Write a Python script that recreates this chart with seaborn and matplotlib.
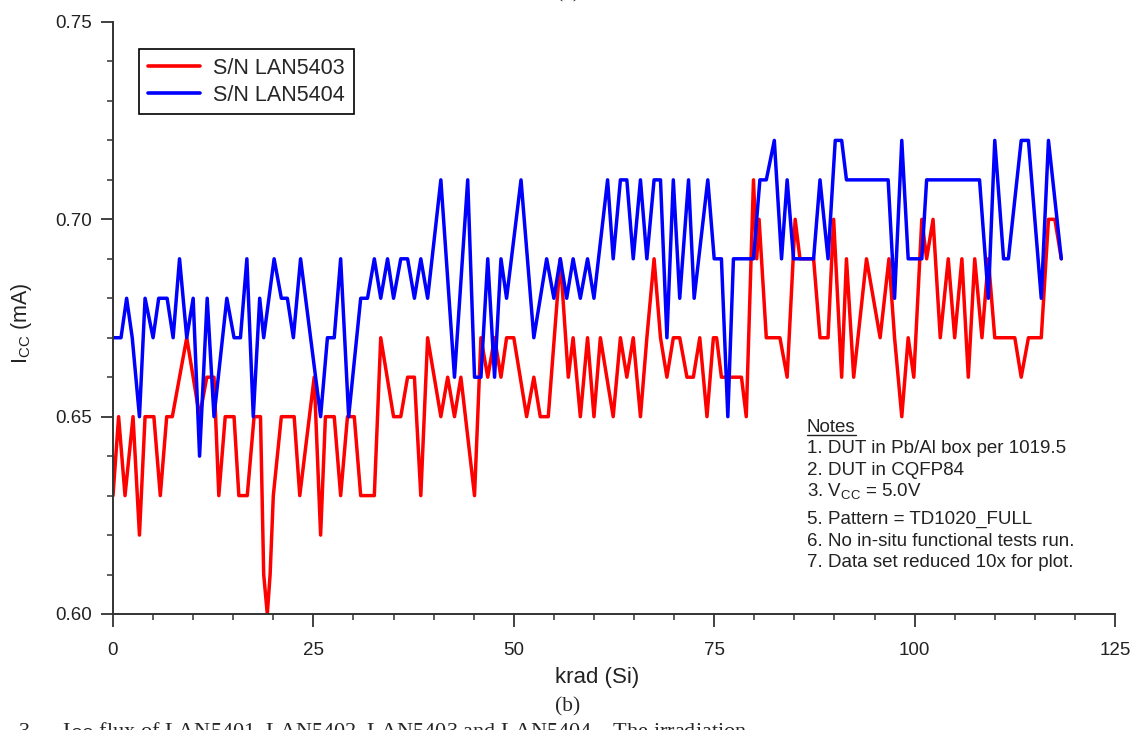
import matplotlib
matplotlib.use("Agg")
import numpy as np
import pandas as pd
import matplotlib.pyplot as plt
from matplotlib.lines import Line2D
from matplotlib.ticker import MultipleLocator, FormatStrFormatter
import seaborn as sns

# ---------------- data ----------------
series_names = ["S/N LAN5403", "S/N LAN5404"]

red_krad = [0, 0.7, 1.5, 2.5, 3.3, 4.0, 5.1, 5.9, 6.7, 7.4, 9.2, 10.8, 11.7, 12.6,
            13.2, 14.0, 15.1, 15.7, 16.75, 17.6, 18.4, 18.8, 19.25, 19.6, 20.0, 21.0,
            22.6, 23.3, 25.1, 25.9, 26.5, 27.6, 28.4, 29.25, 30.1, 30.9, 32.6, 33.4,
            35.0, 35.9, 36.75, 37.6, 38.4, 39.25, 40.9, 41.75, 42.6, 43.4, 45.1, 45.9,
            46.75, 47.6, 48.4, 49.1, 50.0, 51.6, 52.5, 53.3, 54.3, 55.8, 56.8, 57.4,
            58.3, 59.2, 60.0, 60.8, 61.6, 62.4, 63.3, 64.1, 64.9, 65.8, 66.6, 67.5,
            68.3, 69.1, 69.9, 70.7, 71.6, 72.4, 73.2, 74.1, 74.9, 75.3, 75.9, 78.4,
            79.0, 79.9, 80.3, 80.6, 81.5, 83.2, 84.1, 85.1, 85.7, 87.4, 88.2, 89.2,
            89.9, 90.9, 91.5, 92.4, 94.0, 95.7, 96.8, 97.5, 98.4, 99.2, 99.9, 100.9,
            101.5, 102.3, 103.2, 104.2, 105.0, 105.9, 106.7, 107.5, 108.4, 109.2,
            110.0, 112.5, 113.3, 114.2, 115.8, 116.7, 117.5, 118.3]
red_icc = [0.63, 0.65, 0.63, 0.65, 0.62, 0.65, 0.65, 0.63, 0.65, 0.65, 0.67, 0.65, 0.66, 0.66,
           0.63, 0.65, 0.65, 0.63, 0.63, 0.65, 0.65, 0.61, 0.60, 0.61, 0.63, 0.65,
           0.65, 0.63, 0.66, 0.62, 0.65, 0.65, 0.63, 0.65, 0.65, 0.63, 0.63, 0.67,
           0.65, 0.65, 0.66, 0.66, 0.63, 0.67, 0.65, 0.66, 0.65, 0.66, 0.63, 0.67,
           0.66, 0.67, 0.66, 0.67, 0.67, 0.65, 0.66, 0.65, 0.65, 0.69, 0.66, 0.67,
           0.65, 0.67, 0.65, 0.67, 0.66, 0.65, 0.67, 0.66, 0.67, 0.65, 0.67, 0.69,
           0.67, 0.66, 0.67, 0.67, 0.66, 0.66, 0.67, 0.65, 0.67, 0.67, 0.66, 0.66,
           0.65, 0.71, 0.69, 0.70, 0.67, 0.67, 0.66, 0.70, 0.69, 0.69, 0.67, 0.67,
           0.70, 0.66, 0.69, 0.66, 0.69, 0.67, 0.69, 0.67, 0.65, 0.67, 0.66, 0.70,
           0.69, 0.70, 0.67, 0.69, 0.67, 0.69, 0.66, 0.69, 0.67, 0.69,
           0.67, 0.67, 0.66, 0.67, 0.67, 0.70, 0.70, 0.69]

blue_krad = [0, 1.0, 1.7, 2.4, 3.3, 4.0, 5.0, 5.7, 6.75, 7.5, 8.3, 9.2, 10.0, 10.8,
             11.75, 12.6, 14.2, 15.1, 15.9, 16.7, 17.5, 18.3, 18.8, 20.1, 21.0, 21.75,
             22.5, 23.4, 25.9, 26.75, 27.6, 28.4, 29.4, 30.9, 31.75, 32.6, 33.4, 34.25,
             35.0, 35.9, 36.75, 37.6, 38.4, 39.25, 40.9, 42.6, 44.25, 45.1, 45.9, 46.75,
             47.6, 48.4, 49.1, 50.9, 52.5, 54.1, 55.0, 55.8, 56.6, 57.4, 58.3, 59.2,
             60.0, 61.7, 62.4, 63.3, 64.1, 64.9, 65.8, 66.6, 67.5, 68.3, 69.1, 69.9,
             70.7, 71.8, 72.5, 74.2, 75.0, 75.9, 76.7, 77.4, 79.9, 80.7, 81.5, 82.5,
             83.4, 84.1, 84.9, 87.4, 88.2, 89.2, 90.1, 90.9, 91.5, 96.7, 97.5, 98.4,
             99.2, 100.9, 101.5, 108.1, 109.2, 110.0, 111.1, 111.7, 113.3, 114.2,
             115.8, 116.7, 118.3]
blue_icc = [0.67, 0.67, 0.68, 0.67, 0.65, 0.68, 0.67, 0.68, 0.68, 0.67, 0.69, 0.67, 0.68, 0.64,
            0.68, 0.65, 0.68, 0.67, 0.67, 0.69, 0.65, 0.68, 0.67, 0.69, 0.68, 0.68,
            0.67, 0.69, 0.65, 0.67, 0.67, 0.69, 0.65, 0.68, 0.68, 0.69, 0.68, 0.69,
            0.68, 0.69, 0.69, 0.68, 0.69, 0.68, 0.71, 0.66, 0.71, 0.66, 0.66, 0.69,
            0.66, 0.69, 0.68, 0.71, 0.67, 0.69, 0.68, 0.69, 0.68, 0.69, 0.68, 0.69,
            0.68, 0.71, 0.69, 0.71, 0.71, 0.69, 0.71, 0.69, 0.71, 0.71, 0.67, 0.71,
            0.68, 0.71, 0.68, 0.71, 0.69, 0.69, 0.65, 0.69, 0.69, 0.71, 0.71, 0.72,
            0.69, 0.71, 0.69, 0.69, 0.71, 0.69, 0.72, 0.72, 0.71, 0.71, 0.68, 0.72,
            0.69, 0.69, 0.71, 0.71, 0.68, 0.72, 0.69, 0.69, 0.72, 0.72,
            0.68, 0.72, 0.69]

x_ticks = [0, 25, 50, 75, 100, 125]
y_ticks = [0.60, 0.65, 0.70, 0.75]

notes_lines = ["1. DUT in Pb/Al box per 1019.5",
               "2. DUT in CQFP84",
               r"3. V$_{\mathrm{CC}}$ = 5.0V",
               "5. Pattern = TD1020_FULL",
               "6. No in-situ functional tests run.",
               "7. Data set reduced 10x for plot."]

# ---------------- style ----------------
sns.set_style("ticks")
plt.rcParams['font.family'] = ['Liberation Sans', 'DejaVu Sans']
plt.rcParams['mathtext.fontset'] = 'custom'
plt.rcParams['mathtext.rm'] = 'Liberation Sans'
plt.rcParams['mathtext.it'] = 'Liberation Sans:italic'
plt.rcParams['mathtext.bf'] = 'Liberation Sans:bold'

W, H = 1143, 730
fig = plt.figure(figsize=(W / 100, H / 100), dpi=100)
ax = fig.add_axes([113 / W, (H - 614) / H, (1115 - 113) / W, (614 - 22) / H])

df = pd.concat([
    pd.DataFrame({"krad": red_krad, "icc": red_icc, "device": series_names[0]}),
    pd.DataFrame({"krad": blue_krad, "icc": blue_icc, "device": series_names[1]}),
], ignore_index=True)

sns.lineplot(data=df, x="krad", y="icc", hue="device", hue_order=series_names,
             palette=["#ff0000", "#0000ff"], linewidth=2.5, estimator=None,
             sort=False, ax=ax)

ax.set_xlim(0, 125)
ax.set_ylim(0.60, 0.75)
ax.set_xticks(x_ticks)
ax.set_yticks(y_ticks)
ax.xaxis.set_minor_locator(MultipleLocator(5))
ax.yaxis.set_minor_locator(MultipleLocator(0.01))
ax.yaxis.set_major_formatter(FormatStrFormatter('%.2f'))
for s in ["top", "right"]:
    ax.spines[s].set_visible(False)
for s in ["left", "bottom"]:
    ax.spines[s].set_color("#333333")
    ax.spines[s].set_linewidth(1.4)
ax.tick_params(which='major', length=9, width=1.3, direction='out',
               labelsize=13.5, colors='#333333', labelcolor='#222222')
ax.tick_params(which='minor', length=4.5, width=1.1, direction='out', colors='#333333')
ax.tick_params(axis='y', which='major', pad=6)
ax.tick_params(axis='x', which='major', pad=11)
ax.set_xlabel("")
ax.set_ylabel("")

handles, labels = ax.get_legend_handles_labels()
pairs = [(h, l) for h, l in zip(handles, labels) if l in series_names]
leg = ax.legend([p[0] for p in pairs], [p[1] for p in pairs],
                loc='upper left', bbox_to_anchor=((139 - 113) / 1002, (614 - 49) / 592),
                borderaxespad=0, fontsize=15.5, handlelength=2.45, handletextpad=0.6,
                labelspacing=0.28, borderpad=0.4, fancybox=False, framealpha=1,
                edgecolor='black')
leg.get_frame().set_linewidth(1.2)
for lh in leg.get_lines():
    lh.set_linewidth(2.6)

# axis labels
fig.text(597 / W, 1 - 677 / H, "krad (Si)", ha='center', va='center', fontsize=16,
         color='#222222')
fig.text(22 / W, 1 - 323 / H, r"I$_{\mathrm{CC}}$ (mA)", ha='center', va='center',
         rotation=90, fontsize=15.5, color='#222222')

# notes
nt = fig.text(807 / W, 1 - 432 / H, "Notes", ha='left', va='baseline', fontsize=13.5,
              color='#222222')
baselines = [453, 475, 496, 524, 546, 567]
for line, b in zip(notes_lines, baselines):
    fig.text(807 / W, 1 - b / H, line, ha='left', va='baseline', fontsize=13.5,
             color='#222222')
fig.canvas.draw()
bb = nt.get_window_extent(renderer=fig.canvas.get_renderer())
uy = (H - 435) / H
fig.add_artist(Line2D([bb.x0 / W, bb.x1 / W], [uy, uy], transform=fig.transFigure,
                      color='#222222', linewidth=1.0))

# panel labels and clipped caption
fig.text(568 / W, 1 - 707 / H, "(b)", ha='center', va='center', fontsize=15.5,
         family=['Liberation Serif', 'DejaVu Serif'])
fig.text(568 / W, 1 + 7 / H, "(a)", ha='center', va='center', fontsize=15.5,
         family=['Liberation Serif', 'DejaVu Serif'])
fig.text(18 / W, 1 - 721 / H,
         r"3.     I$_{\mathrm{CC}}$ flux of LAN5401, LAN5402, LAN5403 and LAN5404.   The irradiation",
         ha='left', va='top', fontsize=16, family=['Liberation Serif', 'DejaVu Serif'])

fig.savefig("out.png", dpi=100)
